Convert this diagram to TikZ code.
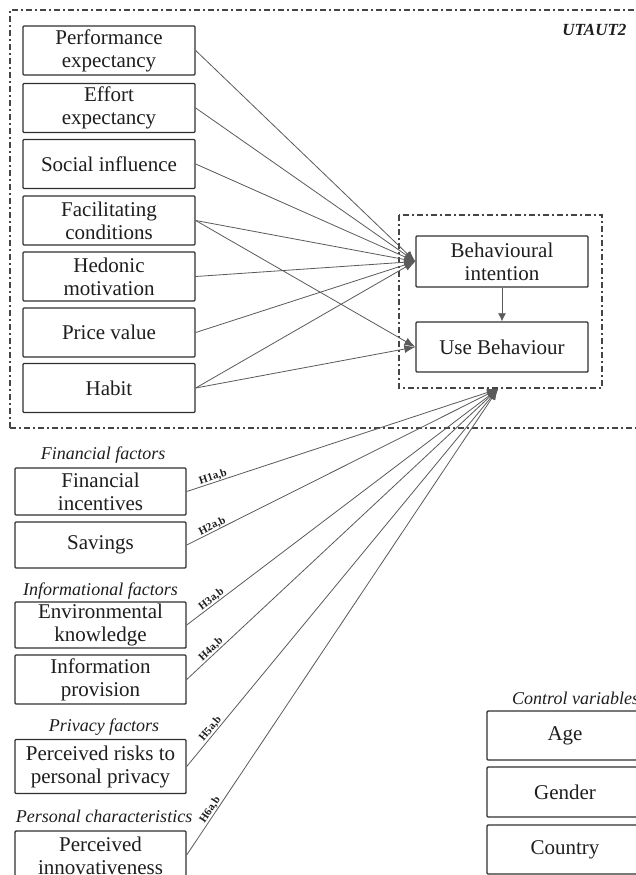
\documentclass[tikz,border=0pt]{standalone}
\usepackage{fontspec}
\setmainfont{Liberation Serif}
\usetikzlibrary{arrows.meta}
\definecolor{lin}{HTML}{5A5A5A}
\definecolor{brd}{HTML}{303030}
\definecolor{txt}{HTML}{1E1E1E}
\tikzset{
  fbox/.style={draw=brd, line width=1.4pt, rounded corners=1pt, align=center, text=txt,
    inner sep=1pt, font=\fontsize{21}{23}\selectfont},
  topbox/.style={fbox, minimum width=172pt, minimum height=49pt},
  lowbox/.style={fbox, minimum width=171pt, minimum height=47pt},
  grp/.style={text=txt, font=\fontsize{18}{20}\selectfont\itshape, inner sep=0pt},
  dashdot/.style={draw=brd!90, line width=1.4pt, dash pattern=on 6pt off 3pt on 2pt off 3pt},
  conn/.style={draw=lin, line width=0.8pt, -{Latex[length=11pt,width=8pt]}},
  hyp/.style={sloped, above, pos=0.09, inner sep=0.5pt, text=txt, font=\fontsize{11}{12}\selectfont\bfseries}
}
\begin{document}
\begin{tikzpicture}[x=1pt,y=-1pt]
\useasboundingbox (0,0) rectangle (636,875);
\clip (0,0) rectangle (636,875);
\fill[white] (0,0) rectangle (636,875);

% outer UTAUT2 frame
\draw[dashdot] (10,428) -- (10,10) -- (660,10);
\draw[dashdot] (10,428) -- (660,428);
\node[text=txt, font=\fontsize{17}{19}\selectfont\bfseries\itshape, anchor=east] (ut) at (630,30) {UTAUT2};

% UTAUT2 constructs
\node[topbox] (pe) at (109,50.5) {Performance\\expectancy};
\node[topbox] (ee) at (109,108) {Effort\\expectancy};
\node[topbox] (si) at (109,164) {Social influence};
\node[topbox] (fc) at (109,220.5) {Facilitating\\conditions};
\node[topbox] (hm) at (109,276.5) {Hedonic\\motivation};
\node[topbox] (pv) at (109,332.5) {Price value};
\node[topbox] (ha) at (109,388) {Habit};

% core
\draw[dashdot] (399,215) rectangle (602,388);
\node[topbox, minimum height=51pt] (bi) at (502,261.5) {Behavioural\\intention};
\node[topbox, minimum height=50pt] (ub) at (502,347) {Use Behaviour};
\coordinate (tg) at (498,389);

\draw[conn, -{Latex[length=8pt,width=8pt]}] (bi.south) -- (ub.north);

\foreach \s in {pe,ee,si,fc,hm,pv,ha} \draw[conn] (\s.east) -- (bi.west);
\draw[conn] (fc.east) -- (ub.west);
\draw[conn] (ha.east) -- (ub.west);

% lower factors
\node[grp] (g1) at (103,455) {Financial factors};
\node[lowbox] (fi) at (100.5,491.5) {Financial\\incentives};
\node[lowbox, minimum height=46pt] (sa) at (100.5,545) {Savings};
\node[grp] (g2) at (100.5,591) {Informational factors};
\node[lowbox, minimum height=46pt] (ek) at (100.5,625) {Environmental\\knowledge};
\node[lowbox, minimum height=49pt] (ip) at (100.5,679.5) {Information\\provision};
\node[grp] (g3) at (104,727) {Privacy factors};
\node[lowbox, minimum height=54pt] (pr) at (100.5,766.5) {Perceived risks to\\personal privacy};
\node[grp] (g4) at (104,816) {Personal characteristics};
\node[lowbox, minimum height=50pt] (pi) at (100.5,856) {Perceived\\innovativeness};

\draw[conn] (fi.east) -- node[hyp] {H1a,b} (tg);
\draw[conn] (sa.east) -- node[hyp] {H2a,b} (tg);
\draw[conn] (ek.east) -- node[hyp] {H3a,b} (tg);
\draw[conn] (ip.east) -- node[hyp] {H4a,b} (tg);
\draw[conn] (pr.east) -- node[hyp] {H5a,b} (tg);
\draw[conn] (pi.east |- 855,855) -- node[hyp] {H6a,b} (tg);

% control variables
\node[grp, anchor=west] (g5) at (512,698) {Control variables};
\node[fbox, minimum width=156pt, minimum height=49pt] (age) at (565,735.5) {Age};
\node[fbox, minimum width=156pt, minimum height=50pt] (gen) at (565,792) {Gender};
\node[fbox, minimum width=156pt, minimum height=49pt] (cty) at (565,849.5) {Country};
\end{tikzpicture}
\end{document}
